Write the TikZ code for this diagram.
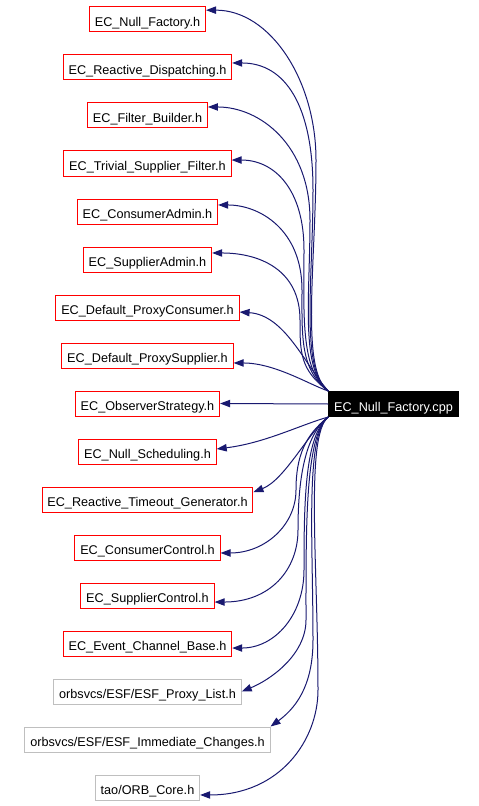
\documentclass[tikz,border=0pt]{standalone}
\usepackage{fontspec}
\setmainfont{Liberation Sans}
\usetikzlibrary{arrows.meta}
\definecolor{edgeblue}{RGB}{25,25,112}
\definecolor{boxgray}{RGB}{191,191,191}

\tikzset{
  hdr/.style={draw=red, line width=0.75pt, minimum height=18.75pt,
    inner xsep=4pt, inner ysep=0pt, text height=11pt, text depth=0pt,
    font=\fontsize{9.5}{11}\selectfont},
  ext/.style={hdr, draw=boxgray},
  src/.style={hdr, draw=black, fill=black, text=white},
  dep/.style={edgeblue, line width=0.75pt, -{Triangle[length=7.5pt,width=5.5pt]}},
}

\begin{document}
\begin{tikzpicture}[x=0.75pt,y=-0.75pt]
\useasboundingbox (0,0) rectangle (478,806);
% included headers, top to bottom
\foreach \n/\lab/\st [count=\i from 0] in {
  nullh/EC\_Null\_Factory.h/hdr,
  dispatch/EC\_Reactive\_Dispatching.h/hdr,
  filter/EC\_Filter\_Builder.h/hdr,
  trivial/EC\_Trivial\_Supplier\_Filter.h/hdr,
  cadmin/EC\_ConsumerAdmin.h/hdr,
  sadmin/EC\_SupplierAdmin.h/hdr,
  dpc/EC\_Default\_ProxyConsumer.h/hdr,
  dps/EC\_Default\_ProxySupplier.h/hdr,
  obs/EC\_ObserverStrategy.h/hdr,
  nsched/EC\_Null\_Scheduling.h/hdr,
  rtg/EC\_Reactive\_Timeout\_Generator.h/hdr,
  cctrl/EC\_ConsumerControl.h/hdr,
  sctrl/EC\_SupplierControl.h/hdr,
  ecb/EC\_Event\_Channel\_Base.h/hdr,
  plist/{orbsvcs/ESF/ESF\_Proxy\_List.h}/ext,
  immed/{orbsvcs/ESF/ESF\_Immediate\_Changes.h}/ext,
  orb/{tao/ORB\_Core.h}/ext}
  \node[\st] (\n) at (147.5,{19.5+48*\i}) {\lab};

\node[src] (cpp) at (393.5,404) {EC\_Null\_Factory.cpp};

% edges up the bundle: corner -> waypoint -> header
\foreach \t/\d/\xw/\yw/\k/\cx/\cy in {
  nullh/7/316/160/80/270/10,
  dispatch/3.4/313/190/85/285/63,
  filter/6.4/310/220/75/260/107,
  trivial/2.6/304/250/60/275/160,
  cadmin/4.9/302/290/60/260/205,
  sadmin/4.9/300/320/50/260/253}
  \draw[dep] (cpp.north west) .. controls (300,370) and (\xw,{\yw+0.45*(392-\yw)}) .. (\xw,\yw)
    .. controls (\xw,{\yw-\k}) and (\cx,\cy) .. ([yshift=\d pt]\t.east);
\draw[dep] (cpp.north west) .. controls (305,365) and (285,315) .. ([yshift=-3.4pt]dpc.east);
\draw[dep] (cpp.north west) .. controls (310,385) and (275,363) .. ([yshift=-5.6pt]dps.east);

\draw[dep] (cpp.west) -- (obs.east);

% edges down the bundle
\draw[dep] (cpp.south west) .. controls (300,425) and (265,443) .. ([yshift=1.9pt]nsched.east);
\draw[dep] (cpp.south west) .. controls (310,430) and (285,480) .. ([yshift=5.6pt]rtg.east);
\foreach \t/\d/\xw/\yw/\k/\cx/\cy in {
  cctrl/-4.1/296/490/35/265/553,
  sctrl/-4.9/298/530/40/270/602,
  ecb/-3.4/304/570/45/275/648,
  plist/0/306/620/35/270/680,
  orb/-5.6/318/690/50/280/795}
  \draw[dep] (cpp.south west) .. controls (305,435) and (\xw,{\yw-0.45*(\yw-416)}) .. (\xw,\yw)
    .. controls (\xw,{\yw+\k}) and (\cx,\cy) .. ([yshift=\d pt]\t.east);
\draw[dep] (cpp.south west) .. controls (305,435) and (313,540) .. (313,640)
  .. controls (313,680) and (300,705) .. (immed.north east);
\end{tikzpicture}
\end{document}
